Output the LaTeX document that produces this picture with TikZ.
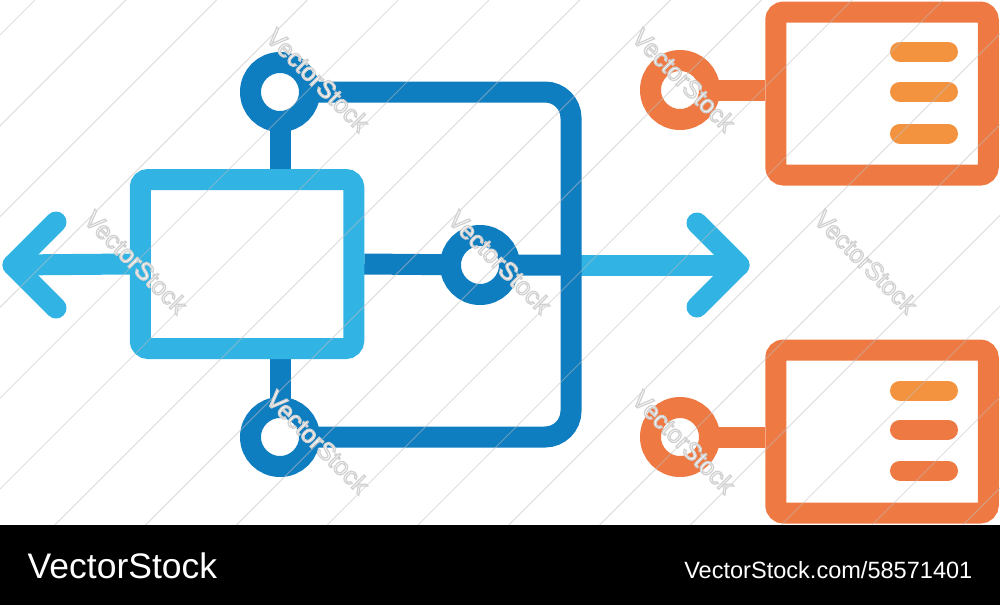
\documentclass[tikz,border=0pt]{standalone}
\usepackage{fontspec}
\setmainfont{Liberation Sans}
\usepackage{tikz}
\usetikzlibrary{calc,backgrounds}
\definecolor{skyblue}{HTML}{31B3E3}
\definecolor{deepblue}{HTML}{0F7EC1}
\definecolor{tangerine}{HTML}{EE7942}
\definecolor{apricot}{HTML}{F39340}
\newcommand{\outlined}[1]{\special{pdf:literal 0.82 0.82 0.82 RG 0.35 w 2 Tr}#1\special{pdf:literal 0 Tr}}
\tikzset{
  lightwire/.style={skyblue,line width=2.1mm,line cap=round,line join=round}}
\tikzset{
  deepwire/.style={deepblue,line width=2.1mm}}
\tikzset{
  orangewire/.style={tangerine,line width=2.1mm}}
\tikzset{
  barline/.style={line width=2mm,line cap=round}}
\tikzset{
  ring/.style={circle,draw=#1,fill=white,line width=2.1mm,minimum size=5.9mm,inner sep=0pt}}
\tikzset{
  panel/.style={rectangle,draw=#1,line width=2.1mm,rounded corners=0.8mm,inner sep=0pt}}
\tikzset{
  stamp/.style={white,font=\fontsize{7.1}{8}\selectfont,rotate=-45,inner sep=0pt}}
\tikzset{
  wmline/.style={white!75!black,line width=0.1mm,opacity=0.5}}

\begin{document}
\begin{tikzpicture}[x=0.1mm,y=-0.1mm]
    \useasboundingbox (0,0) rectangle (1000,605);
    \node[panel=skyblue,minimum width=21.35mm,minimum height=16.9mm](core) at (247,264) {};
    \node[ring=deepblue](T) at (280,92) {};
    \node[ring=deepblue](M) at (480,265) {};
    \node[ring=deepblue](B) at (280,437) {};
    \coordinate (J) at (571,265);
    \coordinate (L) at (13,265);
    \coordinate (R) at (739,265);
    \node[panel=tangerine,minimum width=21.25mm,minimum height=16.3mm](P) at (882,93.5) {};
    \node[panel=tangerine,minimum width=21.25mm,minimum height=16.3mm](Q) at (882,431.5) {};
    \node[ring=tangerine](O1) at (680,90) {};
    \node[ring=tangerine](O2) at (680,437) {};
    \begin{scope}[on background layer]
    \draw[lightwire]
	(core.west) -- (L);
    \draw[lightwire]
	($(L)+(43,-43)$) -- (L) -- ($(L)+(43,43)$);
    \draw[lightwire]
	(J) -- (R);
    \draw[lightwire]
	($(R)+(-42,-42)$) -- (R) -- ($(R)+(-42,42)$);
    \draw[deepwire]
	(T.center) -- (T.center |- core.north);
    \draw[deepwire]
	(B.center) -- (B.center |- core.south);
    \draw[deepwire]
	(core.east) -- (M.center) -- (J);
    \draw[deepwire,rounded corners=2.6mm]
	(T.center) -| (J) |- (B.center);
    \draw[orangewire]
	(O1.center) -- (O1.center -| P.west);
    \draw[orangewire]
	(O2.center) -- (O2.center -| Q.west);
    \end{scope}
    \foreach \dy in {-42,-2,40}
	\draw[barline,apricot] ($(P.center)+(18,\dy)$) -- ++(48,0);
    \foreach \dy/\c in {-41/apricot,-2/tangerine,39/tangerine}
	\draw[barline,\c] ($(Q.center)+(18,\dy)$) -- ++(48,0);
    \begin{scope}
    \clip (0,0) rectangle (1000,525);
    \foreach \c in {35,125.8,...,1500}
	\draw[wmline] (\c,0) -- ++(-525,525);
    \end{scope}
    \foreach \x/\y [count=\i] in {318/80,684/80,136/262,500/262,866/262,318/442,684/442}
	\node[stamp](wm\i) at (\x,\y) {\outlined{VectorStock}};
    \fill[black] (0,525) rectangle (1000,605);
    \node[anchor=base west,white,inner sep=0pt,font=\fontsize{10.1}{12}\selectfont](brand) at (27,578) {VectorStock};
    \node[anchor=base east,white,inner sep=0pt,font=\fontsize{6.7}{8}\selectfont](ref) at (973,578) {VectorStock.com/58571401};
\end{tikzpicture}
\end{document}
